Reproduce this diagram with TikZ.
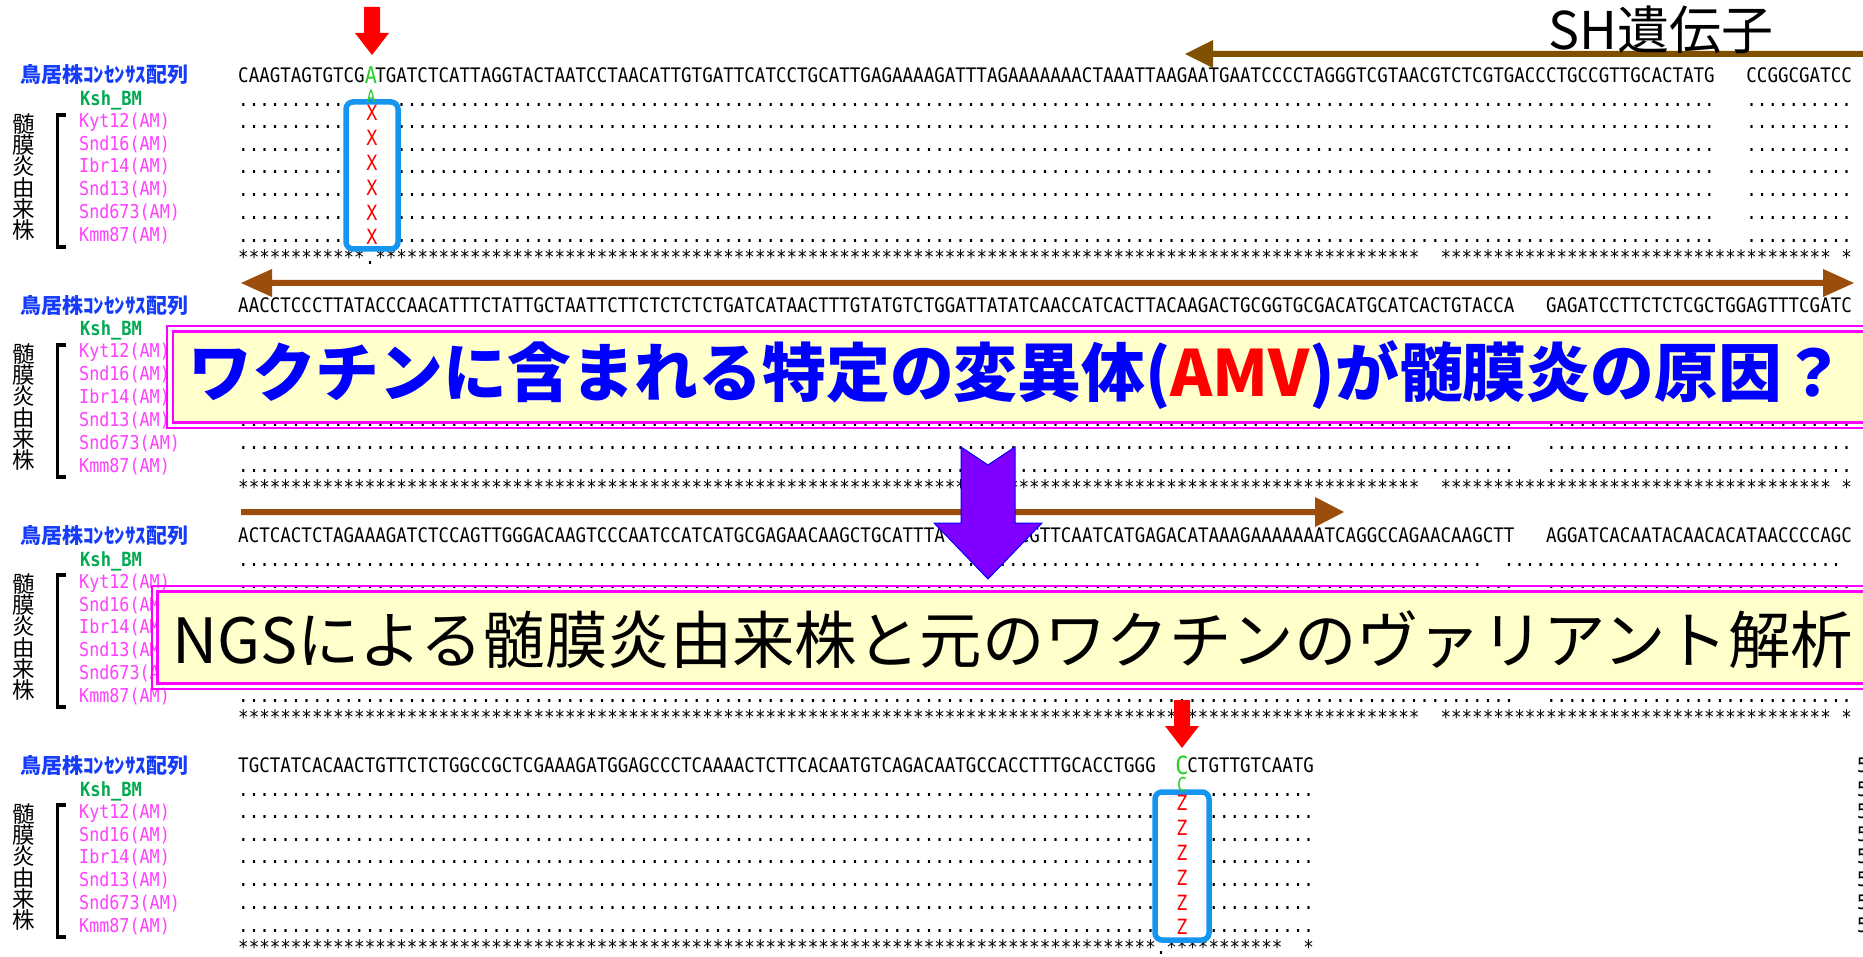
\documentclass[tikz,border=0pt]{standalone}
\usepackage{fontspec}
\setmainfont{DejaVu Sans}
\newfontfamily\seqfont[FakeStretch=0.876]{DejaVu Sans Mono}
\newfontfamily\cjk{Noto Sans CJK JP}
\ExplSyntaxOn
\cs_new:Npn \myrep #1#2 { \prg_replicate:nn {#1} {#2} }
\ExplSyntaxOff
\definecolor{consblue}{RGB}{20,60,250}
\definecolor{kshgreen}{RGB}{0,170,80}
\definecolor{strmag}{RGB}{255,64,255}
\definecolor{basegreen}{RGB}{40,205,40}
\definecolor{boxblue}{RGB}{20,150,240}
\definecolor{browna}{RGB}{127,80,0}
\definecolor{brownb}{RGB}{155,78,12}
\definecolor{bannermag}{RGB}{255,0,255}
\definecolor{banneryel}{RGB}{255,255,204}
\definecolor{arrowpurple}{RGB}{128,0,255}
\definecolor{arrowblue}{RGB}{0,0,255}
\definecolor{textblue}{RGB}{0,0,255}
\definecolor{mutred}{RGB}{255,0,0}
\tikzset{
  seqtext/.style={anchor=base west, inner sep=0pt, font=\seqfont\fontsize{20}{20}\selectfont},
  conslabel/.style={anchor=west, inner sep=0pt, text=consblue, font=\cjk\bfseries\fontsize{21}{22}\selectfont},
  kshlabel/.style={anchor=base west, inner sep=0pt, text=kshgreen, font=\seqfont\bfseries\fontsize{19.5}{20}\selectfont},
  strainlabel/.style={anchor=base west, inner sep=0pt, text=strmag, font=\seqfont\fontsize{19.1}{20}\selectfont},
  vlabel/.style={align=center, inner sep=0pt, font=\cjk\fontsize{22.5}{21.2}\selectfont},
  bracketline/.style={line width=3.5pt},
  mutbox/.style={draw=boxblue, line width=5.5pt, fill=white, rounded corners=7pt},
  mutmark/.style={inner sep=0pt, text=mutred, font=\seqfont\fontsize{21}{21}\selectfont},
  basemark/.style={inner sep=0pt, text=basegreen, font=\seqfont\fontsize{#1}{#1}\selectfont},
  bannerouter/.style={draw=bannermag, line width=2.5pt},
  bannerinner/.style={draw=bannermag, line width=2.5pt, fill=banneryel},
  bannertext/.style={anchor=west, inner sep=0pt},
}
\newcommand\blocklabels[2]{%
  \node[conslabel] (cons#2) at (20,#1) {鳥居株ｺﾝｾﾝｻｽ配列};
  \node[kshlabel] (ksh#2) at (80,{#1+31}) {Ksh\_BM};
  \node[strainlabel] (kyt#2) at (79,{#1+53}) {Kyt12(AM)};
  \node[strainlabel] (snda#2) at (79,{#1+76}) {Snd16(AM)};
  \node[strainlabel] (ibr#2) at (79,{#1+98}) {Ibr14(AM)};
  \node[strainlabel] (sndb#2) at (79,{#1+121}) {Snd13(AM)};
  \node[strainlabel] (sndc#2) at (79,{#1+144}) {Snd673(AM)};
  \node[strainlabel] (kmm#2) at (79,{#1+167}) {Kmm87(AM)};
  \node[vlabel] (vert#2) at (23.5,{#1+102}) {髄\\膜\\炎\\由\\来\\株};
  \draw[bracketline] (66,{#1+40}) -- (57.5,{#1+40}) -- (57.5,{#1+172}) -- (66,{#1+172});
}
\newcommand\strainrows[3]{%
  \foreach \k/\dy in {b/46,c/69,d/91,e/114,f/137,g/160}{
    \node[seqtext] (dot#2\k) at (238,{#1+\dy+7.3}) {#3};
  }
}
\begin{document}
\begin{tikzpicture}[x=1pt,y=-1pt]
\useasboundingbox (0,0) rectangle (1863,957);
\clip (0,0) rectangle (1863,957);
\fill[white] (0,0) rectangle (1863,957);

% ---------- block 1 ----------
\blocklabels{75}{A}
\node[seqtext] (seqA) at (238,82.3) {CAAGTAGTGTCG~TGATCTCATTAGGTACTAATCCTAACATTGTGATTCATCCTGCATTGAGAAAAGATTTAGAAAAAAACTAAATTAAGAATGAATCCCCTAGGGTCGTAACGTCTCGTGACCCTGCCGTTGCACTATG~~~CCGGCGATCC};
\node[seqtext] (dotAa) at (238,106.3) {\myrep{12}{.}~\myrep{127}{.}~~~\myrep{10}{.}};
\strainrows{75}{A}{\myrep{12}{.}~\myrep{127}{.}~~~\myrep{10}{.}}
\node[seqtext] (astA) at (238,264.3) {\myrep{12}{*}.\myrep{99}{*}~~\myrep{37}{*}~*};
\draw[mutbox] (346,102) rectangle (398,249);
\node[basemark=23] (baseA) at (371,75) {A};
\node[basemark=17] (baseAk) at (371,96) {A};
\foreach \yy [count=\i] in {113,138,163,188,213,237}
  \node[mutmark] (xm\i) at (372,\yy) {X};
\fill[mutred] (364,7) -- (380,7) -- (380,33) -- (389,33) -- (372,55) -- (355,33) -- (364,33) -- cycle;
\fill[browna] (1185,54) -- (1213,40) -- (1213,51) -- (1870,51) -- (1870,57) -- (1213,57) -- (1213,68) -- cycle;

% ---------- block 2 ----------
\blocklabels{305}{B}
\node[seqtext] (seqB) at (238,312.3) {AACCTCCCTTATACCCAACATTTCTATTGCTAATTCTTCTCTCTCTGATCATAACTTTGTATGTCTGGATTATATCAACCATCACTTACAAGACTGCGGTGCGACATGCATCACTGTACCA~~~GAGATCCTTCTCTCGCTGGAGTTTCGATC};
\node[seqtext] (dotBa) at (238,336.3) {\myrep{121}{.}~~~\myrep{29}{.}};
\strainrows{305}{B}{\myrep{121}{.}~~~\myrep{29}{.}}
\node[seqtext] (astB) at (238,494.3) {\myrep{112}{*}~~\myrep{37}{*}~*};
\fill[brownb] (241,283) -- (272,269) -- (272,280) -- (1823,280) -- (1823,269) -- (1854,283) -- (1823,297) -- (1823,286) -- (272,286) -- (272,297) -- cycle;

% ---------- block 3 ----------
\blocklabels{535}{C}
\node[seqtext] (seqC) at (238,542.3) {ACTCACTCTAGAAAGATCTCCAGTTGGGACAAGTCCCAATCCATCATGCGAGAACAAGCTGCATTTA~~~~~~GCGTTCAATCATGAGACATAAAGAAAAAAATCAGGCCAGAACAAGCTT~~~AGGATCACAATACAACACATAACCCCAGC};
\node[seqtext] (dotCa) at (238,566.3) {\myrep{118}{.}~~\myrep{32}{.}};
\strainrows{535}{C}{\myrep{121}{.}~~~\myrep{29}{.}}
\node[seqtext] (astC) at (238,724.3) {\myrep{112}{*}~~\myrep{37}{*}~*};
\fill[brownb] (241,509) -- (1315,509) -- (1315,497) -- (1344,512) -- (1315,527) -- (1315,515) -- (241,515) -- cycle;

% ---------- block 4 ----------
\blocklabels{765}{D}
\node[seqtext] (seqD) at (238,772.3) {TGCTATCACAACTGTTCTCTGGCCGCTCGAAAGATGGAGCCCTCAAAACTCTTCACAATGTCAGACAATGCCACCTTTGCACCTGGG~~~CTGTTGTCAATG};
\node[seqtext] (dotDa) at (238,796.3) {\myrep{102}{.}};
\strainrows{765}{D}{\myrep{102}{.}}
\node[seqtext] (astD) at (238,954.3) {\myrep{87}{*}.\myrep{11}{*}~~*};
\draw[mutbox] (1155,792) rectangle (1209,940);
\node[basemark=25] (baseC) at (1182,765) {C};
\node[basemark=19] (baseCk) at (1182,785) {C};
\foreach \yy [count=\i] in {803,828,853,878,903,927}
  \node[mutmark] (zm\i) at (1182,\yy) {Z};
\fill[mutred] (1174,700) -- (1190,700) -- (1190,726) -- (1199,726) -- (1182,748) -- (1165,726) -- (1174,726) -- cycle;
\foreach \yy [count=\i] in {765,789,811,834,856,879,902,925}
  \node[seqtext] (five\i) at (1857,{\yy+7.3}) {5};

% ---------- banners ----------
\draw[bannerouter] (167,326) rectangle (1900,428);
\draw[bannerinner] (173,331.5) rectangle (1900,422.5);
\node[bannertext, text=textblue, font=\cjk\bfseries\fontsize{63.8}{63.8}\selectfont] (banner1) at (188,375)
  {ワクチンに含まれる特定の変異体(\textcolor{mutred}{AMV})が髄膜炎の原因？};

\draw[bannerouter] (152,586) rectangle (1900,689);
\draw[bannerinner] (157.5,591.5) rectangle (1900,683.5);
\node[bannertext, text=black, font=\cjk\fontsize{62.4}{62.4}\selectfont] (banner2) at (172,640)
  {NGSによる髄膜炎由来株と元のワクチンのヴァリアント解析};

% ---------- purple arrow ----------
\filldraw[fill=arrowpurple, draw=arrowblue, line width=1pt] (961,447) -- (988,465) -- (1015,447) -- (1015,523) -- (1042,523) -- (988,579) -- (934,523) -- (961,523) -- cycle;

% ---------- gene label ----------
\node[anchor=west, inner sep=0pt, font=\cjk\fontsize{52}{52}\selectfont] (shgene) at (1548,30) {SH遺伝子};
\end{tikzpicture}
\end{document}
